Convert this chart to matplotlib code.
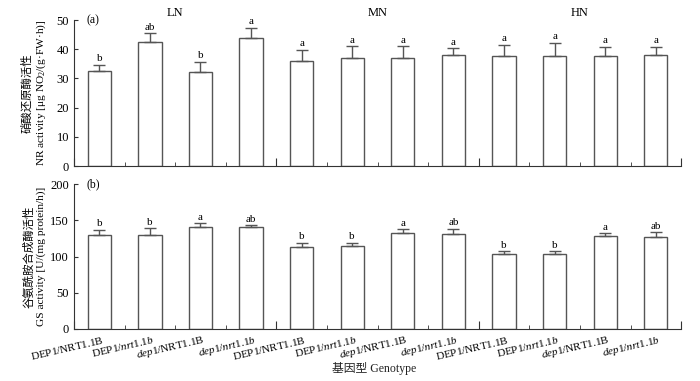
import numpy as np
import matplotlib
matplotlib.use("Agg")
import matplotlib.pyplot as plt
from matplotlib.ticker import FixedLocator

plt.rcParams['font.family'] = ['Liberation Serif', 'Noto Sans CJK SC']
plt.rcParams['mathtext.fontset'] = 'custom'
plt.rcParams['mathtext.rm'] = 'Liberation Serif'
plt.rcParams['mathtext.it'] = 'Liberation Serif:italic'

genotypes = [r'$\mathrm{DEP1/NRT1.1B}$', r'$\mathrm{DEP1}/\mathit{nrt1.1b}$',
             r'$\mathit{dep1}/\mathrm{NRT1.1B}$', r'$\mathit{dep1/nrt1.1b}$']
groups = ['LN', 'MN', 'HN']

nr_mean = [32.5, 42.5, 32.2, 43.7, 36.0, 36.9, 36.9, 37.9, 37.7, 37.7, 37.7, 38.0]
nr_err = [2.1, 2.9, 3.4, 3.6, 3.7, 4.1, 4.1, 2.4, 3.8, 4.5, 3.2, 2.9]
nr_sig = ['b', 'ab', 'b', 'a', 'a', 'a', 'a', 'a', 'a', 'a', 'a', 'a']

gs_mean = [129, 129, 140.5, 140.5, 112.6, 114, 132.8, 130.5, 103.4, 103.4, 127.7, 126.8]
gs_err = [8, 10, 5.5, 3, 6.4, 5, 5, 7.8, 4, 3.6, 4.6, 7]
gs_sig = ['b', 'b', 'a', 'ab', 'b', 'b', 'a', 'ab', 'b', 'b', 'a', 'ab']

fig = plt.figure(figsize=(7, 3.81), dpi=100)
ax1 = fig.add_axes([0.1057, 0.564, 0.8673, 0.3835])
ax2 = fig.add_axes([0.1057, 0.1365, 0.8673, 0.3805])

x = np.arange(12)
edge = '#555555'


def draw(ax, mean, err, sig, ymax, step, off):
    ax.bar(x, mean, width=0.46, color='white', edgecolor=edge, linewidth=1.0)
    ax.errorbar(x, mean, yerr=[np.zeros(12), err], fmt='none', ecolor=edge,
                elinewidth=1.0, capsize=4, capthick=1.0)
    for xi, m, e, s in zip(x, mean, err, sig):
        ax.text(xi, m + e + off, s, ha='center', va='bottom', fontsize=8)
    ax.set_xlim(-0.5, 11.5)
    ax.set_ylim(0, ymax)
    ax.set_yticks(np.arange(0, ymax + 1, step))
    ax.spines['top'].set_visible(False)
    ax.spines['right'].set_visible(False)
    for sp in ['left', 'bottom']:
        ax.spines[sp].set_color('#333333')
        ax.spines[sp].set_linewidth(0.8)
    bounds = np.arange(-0.5, 12, 1)
    ax.xaxis.set_major_locator(FixedLocator(bounds[::4]))
    ax.xaxis.set_minor_locator(FixedLocator(bounds))
    ax.set_xticklabels([])
    ax.tick_params(axis='x', which='major', direction='in', length=6, color='#333333')
    ax.tick_params(axis='x', which='minor', direction='in', length=3, color='#333333')
    ax.tick_params(axis='y', direction='in', length=3, labelsize=9, color='#333333')


draw(ax1, nr_mean, nr_err, nr_sig, 50, 10, 0.6)
draw(ax2, gs_mean, gs_err, gs_sig, 200, 50, 2.0)

ax1.text(0.02, 1.0, '(a)', transform=ax1.transAxes, fontsize=8.5, va='center')
ax2.text(0.02, 1.0, '(b)', transform=ax2.transAxes, fontsize=8.5, va='center')

for i, g in enumerate(groups):
    ax1.text(4 * i + 1.5, 52.5, g, ha='center', va='center', fontsize=9)

ax1.set_ylabel('硝酸还原酶活性\nNR activity [μg NO$_2$/(g·FW·h)]', fontsize=8.2,
               linespacing=1.25, labelpad=6)
ax2.set_ylabel('谷氨酰胺合成酶活性\nGS activity [U/(mg protein/h)]', fontsize=8.2,
               linespacing=1.25, labelpad=3)

labels = genotypes * 3
for xi, lab in zip(x, labels):
    ax2.text(xi + 0.06, -0.035, lab, transform=ax2.get_xaxis_transform(),
             ha='right', va='top', rotation=13, rotation_mode='anchor', fontsize=8)

fig.text(0.535, 0.034, '基因型 Genotype', ha='center', va='center', fontsize=8.5,
         color='#222222')

fig.savefig('out.png', dpi=100)
